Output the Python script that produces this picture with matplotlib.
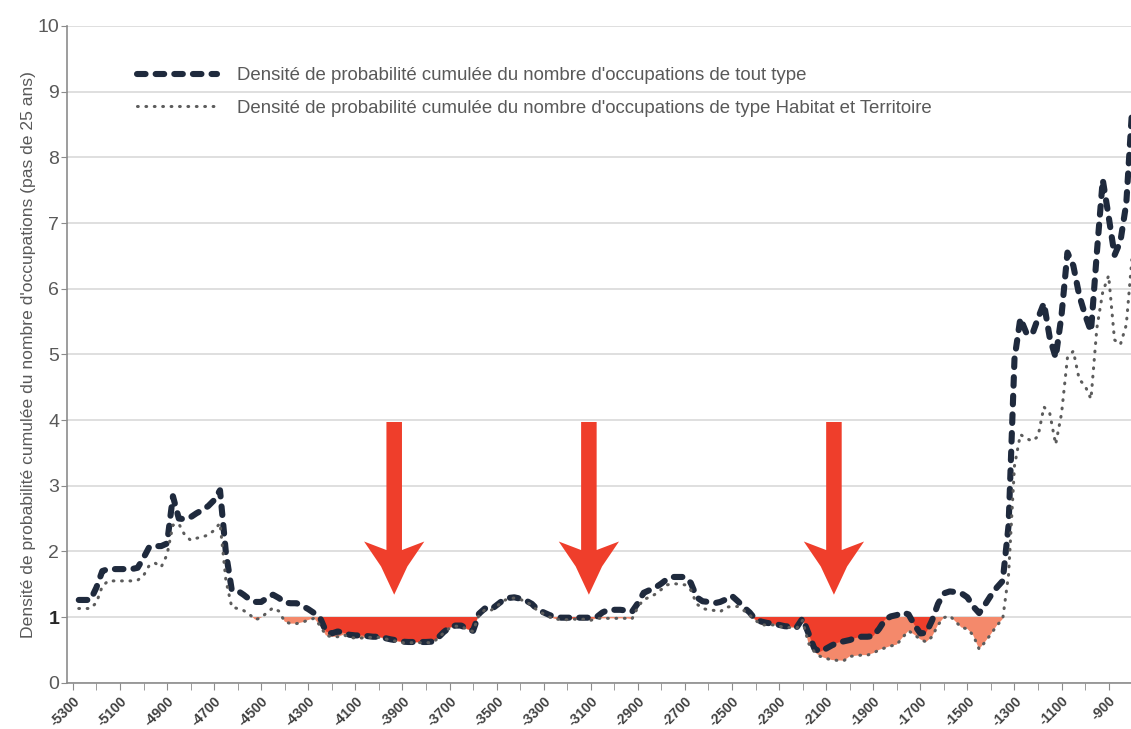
import numpy as np
import matplotlib
matplotlib.use('Agg')
import matplotlib.pyplot as plt
from matplotlib.patches import Polygon
from matplotlib.transforms import ScaledTranslation
from matplotlib import font_manager

# Années (pas de 25 ans)
years = np.arange(-5275, -775, 25)

# Densité cumulée - occupations de tout type
tout_type = np.array([
    1.26, 1.26, 1.26, 1.45, 1.70, 1.73, 1.73, 1.73,
    1.73, 1.73, 1.75, 1.90, 2.07, 2.08, 2.08, 2.12,
    2.84, 2.50, 2.49, 2.52, 2.58, 2.63, 2.69, 2.78,
    2.93, 1.98, 1.41, 1.40, 1.34, 1.27, 1.23, 1.23,
    1.29, 1.34, 1.29, 1.22, 1.21, 1.21, 1.17, 1.12,
    1.06, 0.99, 0.78, 0.75, 0.78, 0.76, 0.73, 0.72,
    0.72, 0.71, 0.70, 0.70, 0.68, 0.66, 0.645, 0.625,
    0.62, 0.62, 0.62, 0.62, 0.625, 0.68, 0.77, 0.84,
    0.87, 0.87, 0.82, 0.79, 1.05, 1.13, 1.11, 1.18,
    1.25, 1.29, 1.30, 1.28, 1.25, 1.20, 1.11, 1.07,
    1.03, 1.00, 0.99, 0.99, 0.99, 0.99, 0.99, 0.99,
    1.00, 1.07, 1.11, 1.11, 1.11, 1.10, 1.08, 1.21,
    1.37, 1.41, 1.45, 1.51, 1.58, 1.61, 1.61, 1.61,
    1.52, 1.30, 1.24, 1.23, 1.21, 1.23, 1.27, 1.32,
    1.24, 1.15, 1.07, 0.96, 0.93, 0.91, 0.90, 0.88,
    0.86, 0.855, 0.845, 0.98, 0.75, 0.52, 0.47, 0.52,
    0.57, 0.61, 0.63, 0.65, 0.68, 0.70, 0.70, 0.71,
    0.82, 0.96, 1.01, 1.03, 1.07, 1.04, 0.88, 0.75,
    0.76, 0.95, 1.20, 1.36, 1.39, 1.38, 1.36, 1.30,
    1.16, 1.06, 1.19, 1.33, 1.45, 1.55, 2.40, 4.93,
    5.55, 5.33, 5.30, 5.55, 5.78, 5.25, 4.95, 5.60,
    6.55, 6.35, 5.90, 5.60, 5.35, 6.55, 7.66, 7.10,
    6.51, 6.72, 7.30, 8.75,
])

# Densité cumulée - occupations de type Habitat et Territoire
habitat = np.array([
    1.13, 1.13, 1.13, 1.22, 1.47, 1.55, 1.55, 1.55,
    1.55, 1.55, 1.56, 1.63, 1.79, 1.82, 1.76, 1.95,
    2.40, 2.42, 2.25, 2.17, 2.20, 2.22, 2.25, 2.32,
    2.43, 1.56, 1.15, 1.13, 1.10, 1.04, 0.96, 0.99,
    1.07, 1.14, 1.09, 0.93, 0.90, 0.90, 0.92, 0.955,
    0.98, 0.87, 0.72, 0.70, 0.70, 0.73, 0.69, 0.68,
    0.68, 0.69, 0.69, 0.69, 0.67, 0.65, 0.63, 0.61,
    0.61, 0.61, 0.61, 0.61, 0.61, 0.67, 0.76, 0.83,
    0.86, 0.86, 0.81, 0.78, 1.03, 1.11, 1.10, 1.16,
    1.24, 1.28, 1.29, 1.27, 1.23, 1.18, 1.09, 1.05,
    1.00, 0.97, 0.96, 0.96, 0.97, 0.96, 0.97, 0.95,
    0.98, 0.98, 0.98, 0.98, 0.98, 0.98, 0.97, 1.15,
    1.27, 1.30, 1.35, 1.42, 1.49, 1.51, 1.50, 1.49,
    1.41, 1.20, 1.13, 1.11, 1.10, 1.08, 1.15, 1.16,
    1.16, 1.10, 1.03, 0.95, 0.88, 0.88, 0.88, 0.86,
    0.845, 0.84, 0.83, 0.95, 0.60, 0.47, 0.40, 0.37,
    0.345, 0.34, 0.335, 0.40, 0.41, 0.42, 0.42, 0.45,
    0.50, 0.53, 0.56, 0.58, 0.69, 0.79, 0.73, 0.66,
    0.62, 0.70, 0.88, 0.99, 1.02, 0.93, 0.84, 0.82,
    0.72, 0.51, 0.62, 0.74, 0.87, 0.97, 1.65, 3.30,
    3.78, 3.72, 3.68, 3.75, 4.20, 4.10, 3.63, 4.10,
    4.95, 5.05, 4.62, 4.52, 4.32, 5.40, 5.95, 6.20,
    5.22, 5.15, 5.45, 6.50,
])

label_years = list(range(-5300, -800, 200))
tick_years = list(range(-5300, -800, 100))
y_ticks = list(range(0, 11))
arrow_years = [-3935, -3108, -2067]

legend_labels = [
    "Densité de probabilité cumulée du nombre d'occupations de tout type",
    "Densité de probabilité cumulée du nombre d'occupations de type Habitat et Territoire",
]
y_title = "Densité de probabilité cumulée du nombre d'occupations (pas de 25 ans)"

COLORS = {
    'navy': '#1f2a3d',
    'dots': '#5c5c5c',
    'red': '#ef3e2b',
    'salmon': '#f4896b',
    'grid': '#d9d9d9',
    'axis': '#8c8c8c',
    'text': '#595959',
}

names = {f.name for f in font_manager.fontManager.ttflist}
NARROW = 'Liberation Sans Narrow' if 'Liberation Sans Narrow' in names else 'Liberation Sans'
plt.rcParams['font.family'] = [NARROW, 'DejaVu Sans']

fig = plt.figure(figsize=(11.31, 7.29), dpi=100, facecolor='white')
ax = fig.add_axes([67 / 1131, 46.3 / 729, 1064 / 1131, 656.7 / 729])

# zones sous le seuil de 1
ax.fill_between(years, habitat, 1, where=habitat < 1, interpolate=True,
                color=COLORS['salmon'], lw=0, zorder=2)
ax.fill_between(years, tout_type, 1, where=tout_type < 1, interpolate=True,
                color=COLORS['red'], lw=0, zorder=3)

ax.plot(years, tout_type, color=COLORS['navy'], lw=4.4, dashes=(1.4, 1.65),
        dash_capstyle='round', solid_capstyle='round', zorder=4, label=legend_labels[0])
ax.plot(years, habitat, color=COLORS['dots'], lw=2.2, dashes=(0.25, 2.5),
        dash_capstyle='round', zorder=5, label=legend_labels[1])

# flèches rouges
for c in arrow_years:
    pts = [(c - 33, 3.97), (c - 33, 2.02), (c - 128, 2.15), (c - 56, 1.77),
           (c, 1.34), (c + 56, 1.77), (c + 128, 2.15), (c + 33, 2.02), (c + 33, 3.97)]
    ax.add_patch(Polygon(pts, closed=True, facecolor=COLORS['red'], edgecolor='none', zorder=6))

ax.set_xlim(-5325, -805)
ax.set_ylim(0, 10)
ax.set_yticks(y_ticks)
ax.set_xticks(label_years)
ax.set_xticks(tick_years, minor=True)
ax.set_xticklabels([str(y) for y in label_years], rotation=45, ha='right',
                   rotation_mode='anchor', fontsize=10, fontweight='bold', color='#404040')
shift = ScaledTranslation(0.06, 0.02, fig.dpi_scale_trans)
for lab in ax.get_xticklabels():
    lab.set_transform(lab.get_transform() + shift)
ax.set_yticklabels([str(v) for v in y_ticks], fontsize=14, color=COLORS['text'])
lab1 = ax.get_yticklabels()[1]
lab1.set_fontweight('bold')
lab1.set_color('#262626')

ax.yaxis.grid(True, color=COLORS['grid'], lw=1.2)
ax.set_axisbelow(True)
for s in ['top', 'right']:
    ax.spines[s].set_visible(False)
for s in ['left', 'bottom']:
    ax.spines[s].set_color(COLORS['axis'])
    ax.spines[s].set_linewidth(1.2)
ax.tick_params(axis='y', length=4, color=COLORS['axis'], pad=1.5)
ax.tick_params(axis='x', which='both', length=5, color=COLORS['axis'], pad=3)

ax.set_ylabel(y_title, fontsize=12.6, color=COLORS['text'])
ax.yaxis.set_label_coords(-0.029, 0.5)

ax.legend(loc='upper left', bbox_to_anchor=(137 / 1131, 1 - 67 / 729),
          bbox_transform=fig.transFigure, frameon=False, fontsize=13.4,
          labelcolor=COLORS['text'], handlelength=4.3, handletextpad=1.05,
          labelspacing=0.85, borderpad=0, borderaxespad=0)

fig.savefig('out.png', dpi=100, facecolor='white')
